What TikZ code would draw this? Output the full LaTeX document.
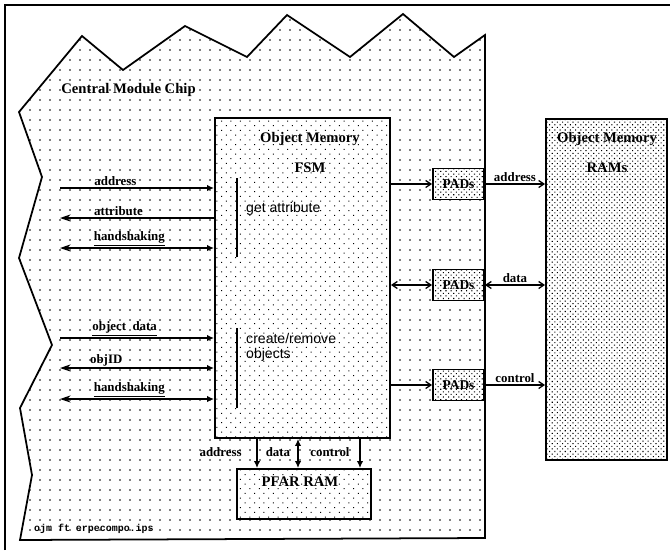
\documentclass[tikz,border=0pt]{standalone}
\usepackage{fontspec}
\setmainfont{Liberation Serif}
\setsansfont{Liberation Sans}
\setmonofont{Liberation Mono}
\usetikzlibrary{calc, positioning, arrows.meta, patterns.meta}

\tikzset{
  sigin/.tip={Latex[length=6pt, width=5.5pt]},
  sigout/.tip={Stealth[length=9pt, width=6pt]},
  padtip/.tip={Straight Barb[length=4.5pt, width=6pt, line width=1.1pt]},
  chipedge/.style={line width=1.5pt, line join=miter,
    pattern={Dots[radius=0.7pt, distance=0.3cm]}},
  fsmbox/.style={draw, line width=1.6pt, preaction={fill=white},
    pattern={Dots[radius=0.6pt, distance=0.2cm, angle=45]}},
  padbox/.style={draw, line width=1.6pt, preaction={fill=white},
    pattern={Dots[radius=0.65pt, distance=0.11cm, angle=45]},
    minimum width=1.53cm, minimum height=0.93cm, inner sep=0pt,
    font=\fontsize{11.5}{12}\selectfont\bfseries},
  title/.style={font=\fontsize{12.5}{14}\selectfont\bfseries, inner sep=1pt},
  lbl/.style={font=\fontsize{11}{12}\selectfont\bfseries, inner sep=1pt},
  sidelbl/.style={font=\sffamily\fontsize{12}{13}\selectfont, inner sep=0pt},
  sig/.style={line width=1.3pt},
}

\begin{document}
\begin{tikzpicture}[x=0.03cm, y=-0.03cm]
  \useasboundingbox (0,0) rectangle (670,550);
  \draw[line width=1.3pt] (5,550) -- (5,5) -- (670,5);

  % chip outline
  \draw[chipedge] (20,540) -- (32,475) -- (20,408) -- (52,345) -- (19,258)
    -- (42,177) -- (19,112) -- (82,36) -- (123,70) -- (185,26) -- (247,57)
    -- (287,15) -- (350,57) -- (403,14) -- (454,57) -- (485,35) -- (485,538)
    -- cycle;
  \node[title, anchor=west] (chipname) at (60,90) {Central Module Chip};

  % boxes
  \node[fsmbox, minimum width=5.25cm, minimum height=9.6cm] (fsm) at (302.5,278) {};
  \node[title] (fsmtitle) at (310,139) {Object Memory};
  \node[title] (fsmname) at (310,168) {FSM};

  \node[padbox] (pads1) at (458.5,184) {PADs};
  \node[padbox] (pads2) at (458.5,285) {PADs};
  \node[padbox] (pads3) at (458.5,385) {PADs};

  \node[padbox, minimum width=3.63cm, minimum height=10.23cm] (ram) at (606.5,289.5) {};
  \node[title] (ramtitle) at (607,139) {Object Memory};
  \node[title] (ramname) at (607,168) {RAMs};

  \node[fsmbox, minimum width=4.02cm, minimum height=1.5cm] (pfar) at (304,494) {};
  \node[title] (pfarname) at (300,482) {PFAR RAM};

  % operation groups
  \draw[line width=2.2pt] (237,178) -- (237,257);
  \draw[line width=2.2pt] (237,328) -- (237,408);
  \node[sidelbl, anchor=west] (getattr) at (246,209) {get attribute};
  \node[sidelbl, anchor=north west, align=left] (creat) at (246,333)
       {create/remove\\objects};

  % signals on the left
  \foreach \n/\y in {addr/188, attr/218, hsa/248, odat/338, oid/368, hsb/399}
    \coordinate (\n) at (60,\y);
  \draw[sig, -sigin] (addr) -- (addr -| fsm.west)
       node[lbl, above, pos=0.36] {address};
  \draw[sig, sigout-] (attr) -- (attr -| fsm.west)
       node[lbl, above, pos=0.38] {attribute};
  \draw[sig, sigout-sigin] (hsa) -- (hsa -| fsm.west)
       node[lbl, above, pos=0.45] {\underline{handshaking}};
  \draw[sig, -sigin] (odat) -- (odat -| fsm.west)
       node[lbl, above, pos=0.42] {\underline{object\ \ data}};
  \draw[sig, sigout-sigin] (oid) -- (oid -| fsm.west)
       node[lbl, above, pos=0.3] {objID};
  \draw[sig, sigout-sigin] (hsb) -- (hsb -| fsm.west)
       node[lbl, above, pos=0.45] {\underline{handshaking}};

  % pads to the RAMs
  \draw[sig, -padtip] (fsm.east |- pads1) -- (pads1.west);
  \draw[sig, -padtip] (pads1.east) -- (pads1 -| ram.west)
       node[lbl, above, midway] {address};
  \draw[sig, padtip-padtip] (fsm.east |- pads2) -- (pads2.west);
  \draw[sig, padtip-padtip] (pads2.east) -- (pads2 -| ram.west)
       node[lbl, above, midway] {data};
  \draw[sig, -padtip] (fsm.east |- pads3) -- (pads3.west);
  \draw[sig, -padtip] (pads3.east) -- (pads3 -| ram.west)
       node[lbl, above, midway] {control};

  % buses to PFAR RAM
  \coordinate (busa) at (257,0);
  \coordinate (busb) at (298,0);
  \coordinate (busc) at (360,0);
  \draw[sig, -sigin] (fsm.south -| busa) -- (pfar.north -| busa);
  \draw[sig, sigin-sigin] (fsm.south -| busb) -- (pfar.north -| busb);
  \draw[sig, -sigin] (fsm.south -| busc) -- (pfar.north -| busc);
  \node[lbl, anchor=east] (busalbl) at (243,452) {address};
  \node[lbl] (busblbl) at (278,452) {data};
  \node[lbl] (busclbl) at (330,452) {control};

  \node[font=\ttfamily\bfseries\fontsize{8.5}{9}\selectfont, anchor=west]
       (fname) at (30,529) {ojm ft erpecompo.ips};
\end{tikzpicture}
\end{document}
